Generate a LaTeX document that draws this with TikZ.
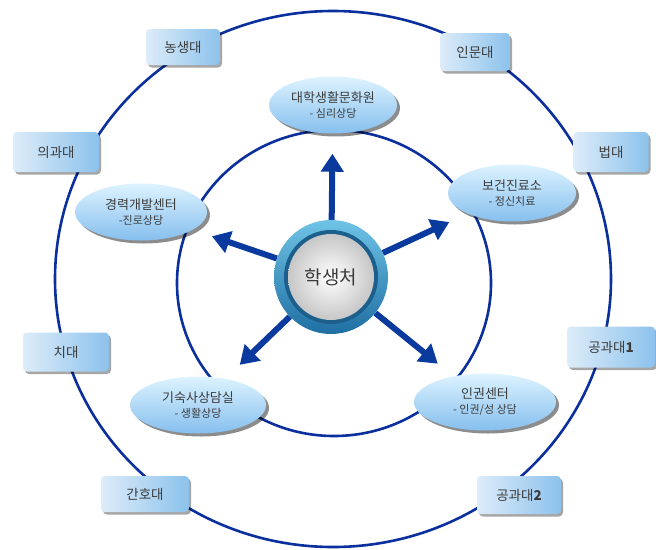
\documentclass[tikz,border=0pt]{standalone}
\usepackage{fontspec}
\newfontfamily\kr{Noto Sans CJK KR}
\usetikzlibrary{shapes.geometric,shadows,arrows.meta}
\definecolor{ringblue}{HTML}{0B2F9C}
\definecolor{arrblue}{HTML}{0A3A9E}
\definecolor{txtgray}{HTML}{3C3C3C}
\definecolor{boxlight}{HTML}{DDECF9}
\definecolor{boxdark}{HTML}{8CC2EC}
\definecolor{elltop}{HTML}{DDF3FF}
\definecolor{ellbot}{HTML}{86BFEE}
\definecolor{ringlight}{HTML}{6FC3E6}
\definecolor{ringdark}{HTML}{1F6FA3}
\definecolor{bandblue}{HTML}{1C5E8C}
\begin{document}
\begin{tikzpicture}[x=1pt,y=-1pt,
  ring/.style={draw=ringblue,line width=2.6pt},
  college/.style={rectangle,rounded corners=4pt,minimum width=78pt,minimum height=38pt,
     left color=boxlight,right color=boxdark,draw=none,
     drop shadow={shadow xshift=2pt,shadow yshift=-2.5pt,opacity=0.35,fill=black},
     font=\kr\fontsize{13.5}{15}\selectfont,text=txtgray},
  office/.style={ellipse,minimum width=128pt,minimum height=57pt,inner sep=0pt,
     top color=elltop,bottom color=ellbot,draw=none,
     drop shadow={shadow xshift=3pt,shadow yshift=-3pt,opacity=0.45,fill=black},
     align=center,font=\kr\fontsize{13}{16}\selectfont,text=txtgray},
  arr/.style={draw=arrblue,line width=6pt,-{Triangle[width=22pt,length=18pt]},shorten >=20pt},
  hub/.style={circle,minimum size=114pt,inner sep=0pt,draw=none,
     top color=ringlight,bottom color=ringdark},
  band/.style={circle,minimum size=94pt,inner sep=0pt,fill=bandblue,draw=none},
  disc/.style={circle,minimum size=86pt,inner sep=0pt,draw=none,
     shading=radial,inner color=white,outer color=black!22,
     font=\kr\fontsize{19}{22}\selectfont,text=txtgray}
]
\useasboundingbox (0,0) rectangle (656,549);

% circles
\draw[ring] (333,279) ellipse [x radius=278, y radius=268];
\draw[ring] (334,283) ellipse [x radius=157, y radius=153];

% offices
\newcommand\subline[1]{{\fontsize{11}{14}\selectfont #1}}
\node[office] (e1) at (333,105) {대학생활문화원\\[-1pt]\subline{- 심리상당}};
\node[office,minimum width=132pt] (e2) at (141,212) {경력개발센터\\[-1pt]\subline{-진로상당}};
\node[office] (e3) at (512,193) {보건진료소\\[-1pt]\subline{- 정신치료}};
\node[office,minimum width=136pt] (e4) at (198,405) {기숙사상담실\\[-1pt]\subline{- 생활상당}};
\node[office,minimum width=142pt] (e5) at (485,402) {인권센터\\[-1pt]\subline{- 인권/성 상담}};

% colleges
\node[college,minimum width=74pt,minimum height=36pt] (b1) at (183,47) {농생대};
\node[college,minimum width=70pt,minimum height=38pt] (b2) at (475,52) {인문대};
\node[college,minimum width=86pt,minimum height=40pt] (b3) at (56,152) {의과대};
\node[college,minimum width=75pt,minimum height=40pt] (b4) at (611,152) {법대};
\node[college,minimum width=86pt,minimum height=39pt] (b5) at (66,352) {치대};
\node[college,minimum width=88pt,minimum height=41pt] (b6) at (611,347) {공과대\textbf{1}};
\node[college,minimum width=88pt,minimum height=36pt] (b7) at (145,494) {간호대};
\node[college,minimum width=84pt,minimum height=38pt] (b8) at (519,495) {공과대\textbf{2}};

% hub
\node[hub] (c) at (331,277) {};
\node[band] (cb) at (c) {};
\node[disc] (cd) at (c) {학생처};

% arrows
\draw[arr] (c) -- (e1);
\draw[arr] (c) -- (e2);
\draw[arr] (c) -- (e3);
\draw[arr] (c) -- (e4);
\draw[arr] (c) -- (e5);
\end{tikzpicture}
\end{document}
